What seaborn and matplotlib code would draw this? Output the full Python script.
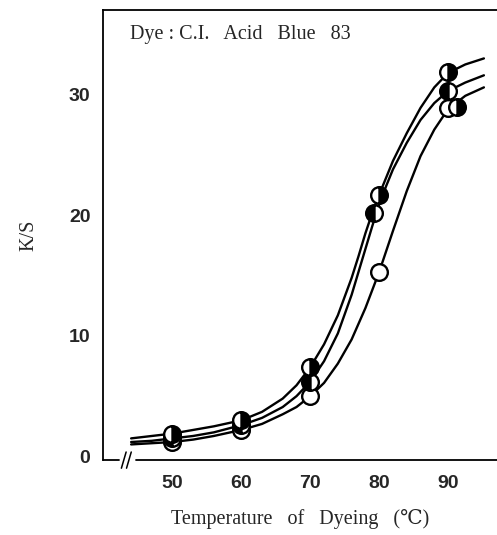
import numpy as np
import pandas as pd
import matplotlib
matplotlib.use("Agg")
import matplotlib.pyplot as plt
import seaborn as sns

# measured points (temperature, K/S) for the three samples
temp_a = [50, 60, 70, 80, 90]
ks_a = [1.2, 2.2, 5.0, 15.3, 28.9]
temp_b = [50, 60, 70, 79.3, 90]
ks_b = [1.5, 2.6, 6.2, 20.2, 30.3]
temp_c = [50, 60, 70, 80, 90]
ks_c = [1.9, 3.0, 7.4, 21.7, 31.9]
temp_d = [91.3]
ks_d = [29.0]

# fitted curves
curve_t = [44, 47, 50, 53, 56, 60, 63, 66, 68, 70, 72, 74, 76, 77, 78, 79,
           80, 81, 82, 84, 86, 88, 90, 92.5, 95.2]
curve_a = [1.0, 1.1, 1.2, 1.4, 1.7, 2.2, 2.7, 3.5, 4.1, 5.0, 6.1, 7.7, 9.7,
           11.0, 12.3, 13.8, 15.3, 17.0, 18.7, 22.0, 24.9, 27.1, 28.8, 29.9, 30.6]
curve_b = [1.2, 1.3, 1.5, 1.7, 2.0, 2.6, 3.2, 4.1, 5.0, 6.2, 7.9, 10.2, 13.4,
           15.3, 17.2, 19.1, 20.9, 22.4, 23.8, 26.0, 27.9, 29.3, 30.3, 31.0, 31.6]
curve_c = [1.5, 1.7, 1.9, 2.2, 2.5, 3.0, 3.7, 4.8, 5.9, 7.4, 9.3, 11.7, 14.8,
           16.6, 18.5, 20.2, 21.7, 23.1, 24.5, 26.8, 28.9, 30.6, 31.8, 32.5, 33.0]

x_ticks = [50, 60, 70, 80, 90]
y_ticks = [0, 10, 20, 30]

sns.set_style("white")
plt.rcParams['font.family'] = ['Liberation Sans', 'DejaVu Sans']

fig = plt.figure(figsize=(4.97, 5.35), dpi=100)
ax = fig.add_axes([0.207, 0.140, 0.793, 0.841])

curves = pd.DataFrame({
    'T': curve_t * 3,
    'KS': curve_a + curve_b + curve_c,
    'sample': ['a'] * len(curve_t) + ['b'] * len(curve_t) + ['c'] * len(curve_t),
})
sns.lineplot(data=curves, x='T', y='KS', units='sample', estimator=None,
             color='black', lw=1.7, ax=ax, legend=False)

mk = dict(marker='o', ls='none', ms=12, mec='black', mew=1.7,
          mfc='white', zorder=5)
ax.plot(temp_a, ks_a, fillstyle='full', **mk)
ax.plot(temp_b, ks_b, fillstyle='left', markerfacecoloralt='white',
        **{**mk, 'mfc': 'black'})
ax.plot(temp_c, ks_c, fillstyle='right', markerfacecoloralt='white',
        **{**mk, 'mfc': 'black'})
ax.plot(temp_d, ks_d, fillstyle='right', markerfacecoloralt='white',
        **{**mk, 'mfc': 'black'})

ax.set_xlim(39.9, 97.1)
ax.set_ylim(-0.3, 37.0)
ax.set_xticks(x_ticks)
ax.set_yticks(y_ticks)
ax.tick_params(direction='in', length=6, width=1.2, color='black')
ax.tick_params(axis='x', pad=11)
ax.tick_params(axis='y', pad=9)
for lab in ax.get_xticklabels() + ax.get_yticklabels():
    lab.set_fontsize(14)
    lab.set_fontweight('bold')

ax.spines['right'].set_visible(False)
ax.spines['bottom'].set_visible(False)
for s in ['left', 'top']:
    ax.spines[s].set_linewidth(1.3)
    ax.spines[s].set_color('black')

# broken x axis
ax.plot([0, 0.04], [0, 0], transform=ax.transAxes, color='black', lw=1.3, clip_on=False)
ax.plot([0.083, 1], [0, 0], transform=ax.transAxes, color='black', lw=1.3, clip_on=False)
for dx in (0.053, 0.066):
    ax.plot([dx - 0.006, dx + 0.006], [-0.018, 0.018], transform=ax.transAxes,
            color='black', lw=1.1, clip_on=False)

serif = ['Liberation Serif', 'DejaVu Serif']
ax.set_xlabel('Temperature   of   Dyeing   (\u2103)', family=serif, fontsize=14.5, labelpad=12)
ax.set_ylabel('K/S', family=serif, fontsize=14.5, labelpad=22)
ax.text(0.07, 0.945, 'Dye : C.I.   Acid   Blue   83', transform=ax.transAxes,
        family=serif, fontsize=14.5, va='center', ha='left')

fig.savefig('out.png', dpi=100)
